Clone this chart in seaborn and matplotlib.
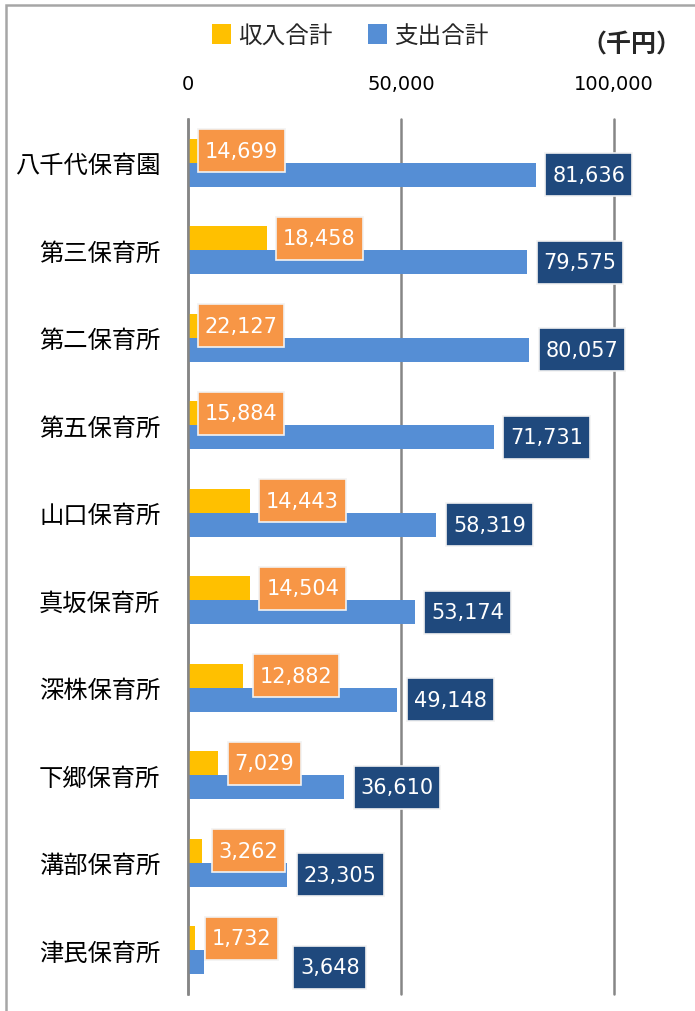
import matplotlib
matplotlib.use("Agg")
import matplotlib.pyplot as plt
import seaborn as sns
import pandas as pd
from matplotlib.path import Path
from matplotlib.patches import Rectangle

# ---------------- data ----------------
categories = ["八千代保育園", "第三保育所", "第二保育所", "第五保育所", "山口保育所",
              "真坂保育所", "深株保育所", "下郷保育所", "溝部保育所", "津民保育所"]
income = [14699, 18458, 22127, 15884, 14443, 14504, 12882, 7029, 3262, 1732]
expense = [81636, 79575, 80057, 71731, 58319, 53174, 49148, 36610, 23305, 3648]
series_names = ["収入合計", "支出合計"]
x_ticks = [0, 50000, 100000]
unit_label = "（千円）"

# label placement overrides (layout): (series, index) -> (anchor x in data units, dy px)
label_overrides = {(0, 0): (0, 0), (0, 2): (0, 0), (0, 3): (0, 0), (1, 9): (22400, 5)}

sns.set_theme(style="white")
plt.rcParams["font.family"] = ["DejaVu Sans", "Noto Sans CJK JP"]

df = pd.DataFrame({
    "施設": categories * 2,
    "金額": income + expense,
    "区分": [series_names[0]] * len(categories) + [series_names[1]] * len(categories),
})

W, H = 695, 1012
fig = plt.figure(figsize=(W / 100, H / 100), dpi=100)
fig.patch.set_facecolor("white")
ax = fig.add_axes([188 / W, 1 - 995 / H, (614 - 188) / W, (995 - 120) / H])

bar_colors = ["#FFC000", "#558ED5"]
sns.barplot(data=df, y="施設", x="金額", hue="区分", orient="h",
            palette=bar_colors, width=0.55, saturation=1, errorbar=None,
            linewidth=0, ax=ax)

ax.set_xlim(0, 100000)
ax.set_ylim(len(categories) - 0.5, -0.5)
ax.set_xlabel("")
ax.set_ylabel("")

ax.xaxis.tick_top()
ax.set_xticks(x_ticks)
ax.set_xticklabels([f"{v:,}" for v in x_ticks])
ax.tick_params(axis="x", length=0, pad=19, labelsize=14, colors="#000000")

ax.set_yticks(range(len(categories)))
ax.set_yticklabels(categories)
ax.set_yticks([i - 0.5 for i in range(len(categories) + 1)], minor=True)
ax.tick_params(axis="y", which="major", length=0, pad=20, labelsize=17.5, colors="#000000")
ax.tick_params(axis="y", which="minor", length=8, width=1.5, color="#868686", direction="out")

for s in ["top", "right", "bottom"]:
    ax.spines[s].set_visible(False)
ax.spines["left"].set_color("#868686")
ax.spines["left"].set_linewidth(1.8)
ax.xaxis.grid(True, color="#868686", linewidth=1.8)
ax.yaxis.grid(False)
ax.set_axisbelow(True)
for gl in ax.get_xgridlines():
    gl.set_clip_on(False)


def label_box(x0, y0, width, height, mutation_size):
    px = 0.33 * mutation_size
    py = 0.55 * mutation_size
    xa, ya = x0 - px, y0 - py
    xb, yb = x0 + width + px, y0 + height + py
    return Path([(xa, ya), (xb, ya), (xb, yb), (xa, yb), (xa, ya)], closed=True)


box_colors = ["#F79646", "#1F497D"]
offset_pt = 16.5 * 72 / 100
for si, vals in enumerate([income, expense]):
    for i, v in enumerate(vals):
        yc = i - 0.1375 if si == 0 else i + 0.1375
        anchor, dy = label_overrides.get((si, i), (v, 0))
        ax.annotate(f"{v:,}", xy=(anchor, yc), xytext=(offset_pt, -dy * 72 / 100),
                    textcoords="offset points", ha="left", va="center",
                    fontsize=15, color="white", zorder=10, annotation_clip=False,
                    bbox=dict(boxstyle=label_box, facecolor=box_colors[si],
                              edgecolor="#F2F2F2", linewidth=1.2))

handles, labels = ax.get_legend_handles_labels()
if ax.get_legend() is not None:
    ax.get_legend().remove()
fig.legend(handles, labels, loc="center", bbox_to_anchor=(350 / W, 1 - 36 / H),
           ncol=2, frameon=False, fontsize=17, handlelength=0.8, handleheight=0.9,
           handletextpad=0.3, columnspacing=1.5, borderaxespad=0)

fig.text(631 / W, 1 - 45 / H, unit_label, ha="center", va="center",
         fontsize=18, fontweight="bold", family=["Noto Sans CJK JP", "DejaVu Sans"])

fig.add_artist(Rectangle((6 / W, -0.1), 1.2, 1.1 - 6 / H, transform=fig.transFigure,
                         fill=False, edgecolor="#A6A6A6", linewidth=1.8))

fig.savefig("out.png", dpi=100)
